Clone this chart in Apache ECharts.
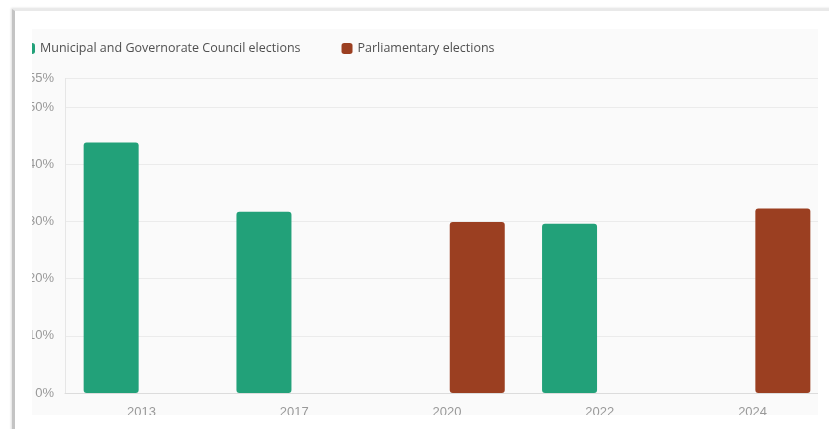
<!DOCTYPE html>
<html lang="en">
<head>
    <meta charset="UTF-8" />
    <title>Turnout</title>
    <style>
        body { margin: 0; background: #fff; width: 829px; height: 429px; overflow: hidden; position: relative; }
        .frame {
            position: absolute; left: 12px; top: 9px; width: 840px; height: 440px;
            border-left: 3px solid #c4c4c4; border-top: 2px solid #e9e9e9;
            box-shadow: -1px -1px 2px rgba(0,0,0,0.12);
        }
        .panel {
            position: absolute; left: 32px; top: 29px; width: 786px; height: 386px;
            background: #fafafa; overflow: hidden;
        }
        #container { position: absolute; left: -32px; top: -29px; width: 829px; height: 429px; }
    </style>
</head>
<body>
    <div class="frame"></div>
    <div class="panel"><div id="container"></div></div>
    <script src="https://cdn.jsdelivr.net/npm/echarts@6/dist/echarts.min.js"></script>
    <script type="text/javascript">
        var years = ['2013', '2017', '2020', '2022', '2024'];
        var municipal = [43.8, 31.7, null, 29.6, null];
        var parliamentary = [null, null, 29.9, null, 32.25];
        var names = ['Municipal and Governorate Council elections', 'Parliamentary elections'];

        var myChart = echarts.init(document.getElementById('container'));
        var option = {
            animation: false,
            color: ['#22a179', '#9b3f21'],
            legend: {
                left: 24,
                top: 42,
                padding: 0,
                itemWidth: 11,
                itemHeight: 11,
                itemGap: 41,
                icon: 'roundRect',
                textStyle: { fontFamily: 'Open Sans', fontSize: 12.5, color: '#505050' },
                data: names
            },
            grid: { left: 65, right: -1, top: 78.4, bottom: 36, containLabel: false },
            xAxis: {
                type: 'category',
                data: years,
                axisTick: { show: false },
                axisLine: { lineStyle: { color: '#dcdcdc' } },
                axisLabel: { margin: 13, fontFamily: 'Liberation Sans', fontSize: 13, color: '#999' }
            },
            yAxis: {
                type: 'value',
                min: 0,
                max: 55,
                interval: 10,
                axisLine: { show: true, lineStyle: { color: '#e6e6e6' } },
                axisTick: { show: false },
                splitLine: { lineStyle: { color: '#ebebeb' } },
                axisLabel: { margin: 11, fontFamily: 'Liberation Sans', fontSize: 13, color: '#999', formatter: '{value}%' }
            },
            series: [{
                name: names[0],
                type: 'bar',
                data: municipal,
                barWidth: 55,
                barGap: '10%',
                itemStyle: { borderRadius: 3 }
            }, {
                name: names[1],
                type: 'bar',
                data: parliamentary,
                barWidth: 55,
                itemStyle: { borderRadius: 3 }
            }]
        };
        myChart.setOption(option);
    </script>
</body>
</html>
